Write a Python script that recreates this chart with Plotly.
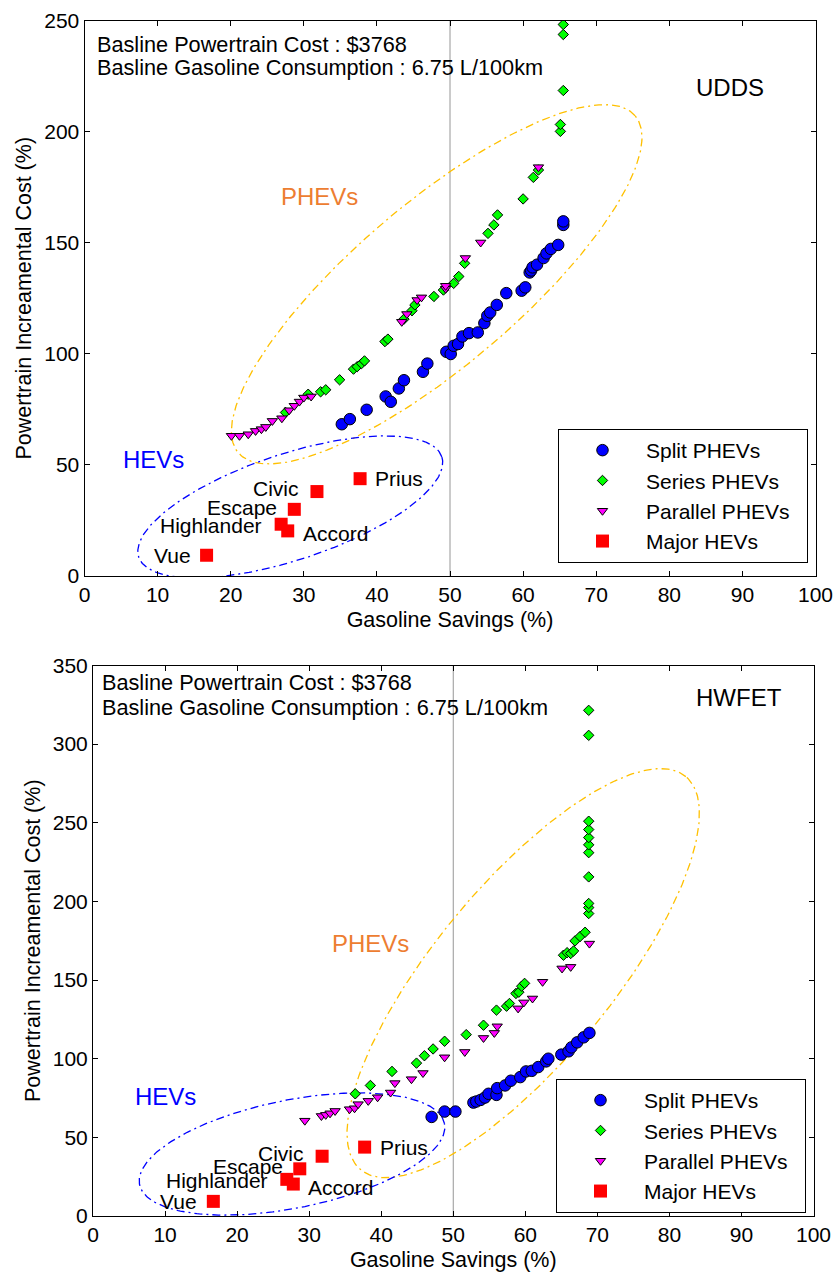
import numpy as np
import plotly.graph_objects as go

# ---------------- data ----------------
# UDDS (top panel)
udds_split_x = [35.2, 36.3, 38.6, 41.2, 41.9, 43.0, 43.7, 46.3, 46.9, 49.5, 50.1, 50.5, 51.1, 51.7,
                52.6, 53.8, 54.7, 55.1, 55.5, 56.4, 57.7, 59.8, 60.3, 60.9, 61.1, 61.3, 61.9, 62.8,
                63.2, 63.8, 64.8, 65.5, 65.5]
udds_split_y = [68.3, 70.6, 74.8, 80.8, 78.4, 84.4, 88.1, 91.9, 95.6, 100.9, 99.9, 103.6, 104.4, 107.8,
                109.3, 109.6, 113.8, 117.1, 118.6, 122.0, 127.3, 128.4, 129.9, 136.6, 137.5, 138.9, 140.1, 143.1,
                145.2, 147.2, 149.0, 158.0, 159.6]
udds_series_x = [27.5, 30.6, 32.3, 33.0, 34.9, 36.8, 37.3, 37.9, 38.3, 41.1, 41.5, 43.7, 44.8, 45.2,
                 47.8, 49.1, 50.5, 51.2, 52.0, 55.2, 56.0, 56.5, 60.0, 61.4, 62.1, 65.1, 65.1, 65.5,
                 65.5, 65.5]
udds_series_y = [73.6, 81.8, 82.9, 83.8, 88.3, 93.1, 94.2, 95.6, 96.8, 105.5, 106.6, 115.6, 119.4, 122.0,
                 125.8, 128.7, 131.7, 134.8, 140.7, 154.2, 158.0, 162.5, 169.7, 179.4, 182.7, 200.1, 203.2, 218.5,
                 243.7, 248.2]
udds_parallel_x = [20.1, 21.2, 22.4, 23.4, 24.2, 24.8, 25.7, 27.0, 28.0, 28.7, 29.4, 30.0, 31.0,
                   43.4, 44.1, 45.5, 46.1, 49.4, 49.4, 52.1, 54.2, 62.1]
udds_parallel_y = [63.1, 63.1, 63.8, 65.3, 66.1, 67.1, 69.8, 71.0, 74.6, 76.6, 78.5, 80.3, 80.8,
                   114.4, 117.9, 124.2, 125.4, 129.3, 130.6, 143.1, 150.1, 184.0]

# HWFET (bottom panel)
hwfet_split_x = [47.0, 48.8, 50.3, 52.8, 53.2, 53.8, 54.4, 54.9, 56.0, 56.1, 57.2, 58.0, 59.3, 60.1,
                 60.9, 61.8, 62.9, 63.2, 65.0, 66.0, 66.4, 67.2, 68.1, 68.9]
hwfet_split_y = [63.0, 66.4, 66.4, 72.1, 72.8, 73.8, 75.3, 77.7, 77.0, 81.3, 83.0, 86.0, 88.3, 91.9,
                 92.3, 94.7, 98.3, 100.0, 102.6, 104.7, 107.2, 110.4, 113.6, 116.4]
hwfet_series_x = [36.4, 38.5, 41.5, 44.9, 46.0, 47.2, 48.8, 51.8, 54.2, 56.0, 57.4, 57.8, 58.7, 59.1,
                  59.5, 59.9, 65.3, 65.8, 66.3, 66.7, 66.9, 67.6, 68.3, 68.8, 68.8, 68.8, 68.8, 68.8,
                  68.8, 68.8, 68.8, 68.8, 68.8, 68.8]
hwfet_series_y = [77.7, 83.0, 91.9, 97.2, 101.9, 106.2, 111.1, 115.3, 121.3, 130.9, 133.4, 135.1, 141.5, 142.3,
                  146.1, 147.9, 165.8, 167.4, 166.9, 168.5, 174.9, 177.7, 180.4, 192.3, 196.1, 198.7, 215.6, 231.0,
                  236.0, 240.6, 245.7, 251.0, 305.6, 321.5]
hwfet_parallel_x = [29.4, 31.7, 32.3, 32.9, 33.6, 35.6, 36.3, 36.8, 38.2, 39.5, 41.3, 41.9, 44.2, 45.8,
                    48.8, 51.6, 54.2, 55.7, 56.1, 59.0, 59.8, 61.0, 62.4, 65.1, 66.3, 68.9]
hwfet_parallel_y = [60.6, 63.6, 64.3, 65.3, 66.8, 67.9, 68.5, 71.1, 73.2, 75.5, 78.5, 84.5, 87.0, 90.9,
                    100.9, 104.3, 113.2, 116.4, 120.6, 132.0, 135.8, 138.3, 148.9, 157.4, 158.4, 173.2]

# Major HEVs (same in both panels)
hev_names = ["Vue", "Highlander", "Accord", "Escape", "Civic", "Prius"]
hev_x = [16.7, 26.9, 27.8, 28.7, 31.8, 37.7]
hev_y = [9.3, 23.3, 20.3, 30.0, 38.0, 43.8]

series_names = ["Split PHEVs", "Series PHEVs", "Parallel PHEVs", "Major HEVs"]

x_ticks = [0, 10, 20, 30, 40, 50, 60, 70, 80, 90, 100]
y_ticks_udds = [0, 50, 100, 150, 200, 250]
y_ticks_hwfet = [0, 50, 100, 150, 200, 250, 300, 350]

# ---------------- styling ----------------
FONT = "Liberation Sans, Arial, sans-serif"
W, H = 836, 1276
PAD = "\u00a0\u00a0"   # invisible right padding inside the legend box

def px_x(p):
    return p / W

def px_y(p):
    return 1 - p / H

fig = go.Figure()

def add_panel(xa, ya, leg, split, series, parallel):
    fig.add_trace(go.Scatter(x=split[0], y=split[1], mode="markers", name=series_names[0] + PAD,
                             xaxis=xa, yaxis=ya, legend=leg,
                             marker=dict(symbol="circle", size=11.5, color="#0000FF",
                                         line=dict(color="#000000", width=1))))
    fig.add_trace(go.Scatter(x=series[0], y=series[1], mode="markers", name=series_names[1] + PAD,
                             xaxis=xa, yaxis=ya, legend=leg,
                             marker=dict(symbol="diamond", size=8, color="#00FF00",
                                         line=dict(color="#000000", width=1))))
    fig.add_trace(go.Scatter(x=parallel[0], y=parallel[1], mode="markers", name=series_names[2] + PAD,
                             xaxis=xa, yaxis=ya, legend=leg,
                             marker=dict(symbol="triangle-down", size=9, color="#FF00FF",
                                         line=dict(color="#000000", width=1))))
    fig.add_trace(go.Scatter(x=hev_x, y=hev_y, mode="markers", name=series_names[3] + PAD,
                             xaxis=xa, yaxis=ya, legend=leg,
                             marker=dict(symbol="square", size=13, color="#FF0000",
                                         line=dict(width=0))))

def add_ellipse(xa, ya, c, u, v, color):
    t = np.linspace(0, 2 * np.pi, 300)
    ex = c[0] + u[0] * np.cos(t) + v[0] * np.sin(t)
    ey = c[1] + u[1] * np.cos(t) + v[1] * np.sin(t)
    fig.add_trace(go.Scatter(x=ex, y=ey, mode="lines", xaxis=xa, yaxis=ya, showlegend=False,
                             hoverinfo="skip",
                             line=dict(color=color, width=1.3, dash="8px,4px,2px,4px")))

ORANGE_LINE = "#FFC000"
BLUE_LINE = "#0000FF"

# ellipses first (drawn under markers)
add_ellipse("x", "y", (48.18, 131.3), (27.14, 75.86), (-7.22, 27.93), ORANGE_LINE)
add_ellipse("x", "y", (28.15, 31.08), (20.73, 22.55), (-2.28, 22.67), BLUE_LINE)
add_ellipse("x2", "y2", (59.71, 154.4), (22.57, 124.97), (-9.42, 35.96), ORANGE_LINE)
add_ellipse("x2", "y2", (27.62, 39.4), (21.16, 19.35), (-1.457, 33.71), BLUE_LINE)

add_panel("x", "y", "legend", (udds_split_x, udds_split_y), (udds_series_x, udds_series_y),
          (udds_parallel_x, udds_parallel_y))
add_panel("x2", "y2", "legend2", (hwfet_split_x, hwfet_split_y), (hwfet_series_x, hwfet_series_y),
          (hwfet_parallel_x, hwfet_parallel_y))

axis_common = dict(showline=True, linecolor="black", linewidth=1, mirror="allticks",
                   ticks="inside", ticklen=5, tickcolor="black", showgrid=False, zeroline=False,
                   automargin=False,
                   tickfont=dict(family=FONT, size=21, color="black"))
title_font = dict(family=FONT, size=21.5, color="black")

fig.update_layout(
    width=W, height=H, margin=dict(l=0, r=0, t=0, b=0, autoexpand=False),
    paper_bgcolor="white", plot_bgcolor="white",
    font=dict(family=FONT, color="black"),
    xaxis=dict(domain=[px_x(84.5), px_x(815.5)], range=[0, 100], tickvals=x_ticks, anchor="y",
               title=dict(text="Gasoline Savings (%)", font=title_font, standoff=6), **axis_common),
    yaxis=dict(domain=[px_y(576), px_y(20.5)], range=[0, 250], tickvals=y_ticks_udds, anchor="x",
               title=dict(text="Powertrain Increamental Cost (%)", font=title_font, standoff=6),
               **axis_common),
    xaxis2=dict(domain=[px_x(93), px_x(813.5)], range=[0, 100], tickvals=x_ticks, anchor="y2",
                title=dict(text="Gasoline Savings (%)", font=title_font, standoff=6), **axis_common),
    yaxis2=dict(domain=[px_y(1216), px_y(665.5)], range=[0, 350], tickvals=y_ticks_hwfet, anchor="x2",
                title=dict(text="Powertrain Increamental Cost (%)", font=title_font, standoff=6),
                **axis_common),
    legend=dict(x=px_x(808), y=px_y(563), xanchor="right", yanchor="bottom",
                bordercolor="black", borderwidth=1, bgcolor="white",
                font=dict(family=FONT, size=21, color="black"), itemwidth=77),
    legend2=dict(x=px_x(806), y=px_y(1213), xanchor="right", yanchor="bottom",
                 bordercolor="black", borderwidth=1, bgcolor="white",
                 font=dict(family=FONT, size=21, color="black"), itemwidth=77),
)

# vertical reference line at 50 %
for xr, yr in (("x", "y domain"), ("x2", "y2 domain")):
    fig.add_shape(type="line", xref=xr, yref=yr, x0=50, x1=50, y0=0, y1=1,
                  line=dict(color="rgb(150,150,150)", width=1), layer="below")

def ann(xr, yr, x, y, text, size=21, color="black", xanchor="left", xshift=0, yshift=0):
    fig.add_annotation(xref=xr, yref=yr, x=x, y=y, text=text, showarrow=False,
                       xanchor=xanchor, yanchor="middle", xshift=xshift, yshift=yshift,
                       font=dict(family=FONT, size=size, color=color))

# panel texts
ann("x", "y", 1.5, 239.2, "Basline Powertrain Cost : $3768", size=21.7)
ann("x", "y", 1.5, 229.0, "Basline Gasoline Consumption : 6.75 L/100km", size=21.7)
ann("x", "y", 83.4, 220.0, "UDDS", size=24)
ann("x", "y", 32.2, 170.9, "PHEVs", size=24, color="#ED7D31", xanchor="center")
ann("x", "y", 9.45, 52.6, "HEVs", size=24, color="#0000FF", xanchor="center")

ann("x2", "y2", 1.0, 339.5, "Basline Powertrain Cost : $3768", size=21.7)
ann("x2", "y2", 1.0, 323.6, "Basline Gasoline Consumption : 6.75 L/100km", size=21.7)
ann("x2", "y2", 83.4, 329.5, "HWFET", size=24)
ann("x2", "y2", 38.5, 173.4, "PHEVs", size=24, color="#ED7D31", xanchor="center")
ann("x2", "y2", 10.06, 75.8, "HEVs", size=24, color="#0000FF", xanchor="center")

# HEV name labels, offset in pixels from each square
label_off = {"Vue": ("right", -14, 0), "Highlander": ("right", -17, -1), "Accord": ("left", 13, -3),
             "Escape": ("right", -15, 2), "Civic": ("right", -16, 3), "Prius": ("left", 13, 0)}
for xr, yr in (("x", "y"), ("x2", "y2")):
    for n, hx, hy in zip(hev_names, hev_x, hev_y):
        anc, dx, dy = label_off[n]
        ann(xr, yr, hx, hy, n, xanchor=anc, xshift=dx, yshift=dy)

fig.write_html("out.html", config={"displayModeBar": False},
               post_script="document.body.style.margin='0px';")
